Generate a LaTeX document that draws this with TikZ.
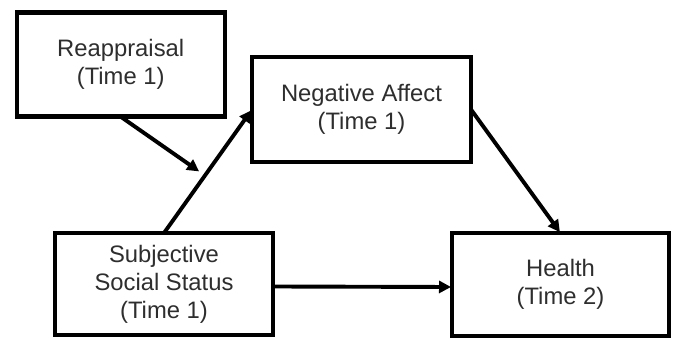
\documentclass[tikz,border=0pt]{standalone}
\usepackage{fontspec}
\setmainfont{Liberation Sans}
\usetikzlibrary{arrows.meta}
\begin{document}
\begin{tikzpicture}[x=1pt,y=1pt,
  boxnode/.style={draw=black, line width=4.4pt, fill=white, align=center,
    text=black!82, inner sep=0pt, outer sep=0pt,
    font=\fontsize{23.8}{28}\selectfont},
  conn/.style={line width=3.9pt, -{Triangle[length=12pt,width=12pt]}, shorten >=1pt}]
\useasboundingbox (0,0) rectangle (676,339);
\fill[white] (0,0) rectangle (676,339);
\node[boxnode, minimum width=208pt, minimum height=104pt] (reap) at (120.7,274.3) {Reappraisal\\(Time 1)};
\node[boxnode, minimum width=219pt, minimum height=105pt] (nega) at (361.5,229.5) {Negative Affect\\(Time 1)};
\node[boxnode, minimum width=218pt, minimum height=102pt] (subj) at (164,55) {Subjective\\Social Status\\(Time 1)};
\node[boxnode, minimum width=217pt, minimum height=103pt] (health) at (560.5,54.5) {Health\\(Time 2)};
\coordinate (mod) at (200,167);
\draw[conn] (subj.north) -- (nega.west);
\draw[conn] (reap.south) -- (mod);
\draw[conn] (nega.east) -- (health.north);
\draw[conn] ([yshift=-2.5pt]subj.east) -- ([yshift=-2.5pt]health.west);
\end{tikzpicture}
\end{document}
